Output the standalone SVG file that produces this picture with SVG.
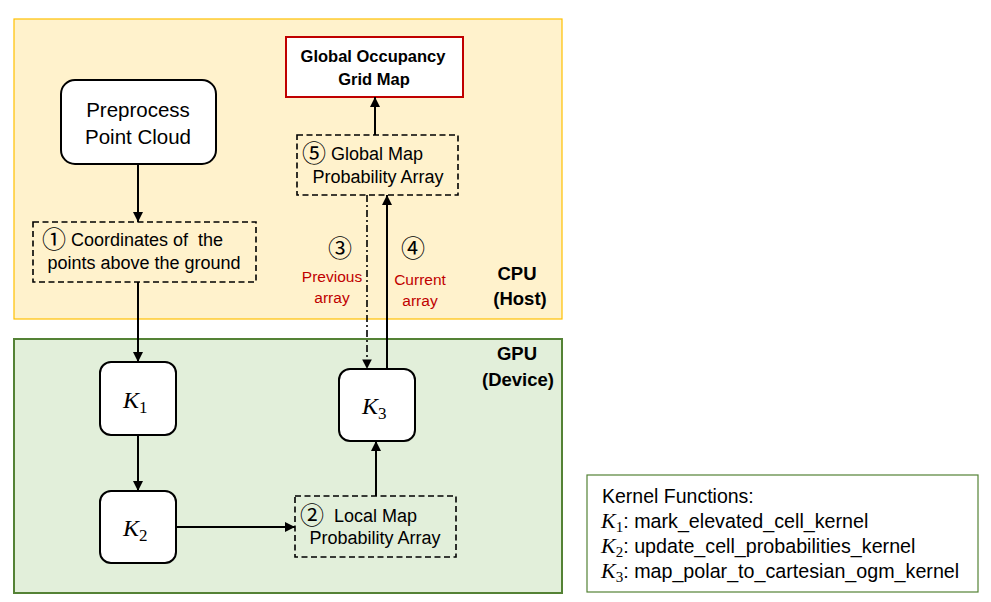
<svg xmlns="http://www.w3.org/2000/svg" width="991" height="602" viewBox="0 0 991 602">
<style>
.t{font-family:"Liberation Sans",Arial,sans-serif;fill:#000}
.b{font-weight:bold}
.red{fill:#C00000}
.c{text-anchor:middle}
.cn{font-family:"Noto Sans CJK JP","DejaVu Sans",sans-serif;font-weight:normal}
.k{font-family:"Liberation Serif","Times New Roman",serif;font-style:italic}
.ks{font-family:"Liberation Serif","Times New Roman",serif}
.node{fill:#fff;stroke:#000;stroke-width:2}
.dash{fill:none;stroke:#000;stroke-width:1.6;stroke-dasharray:6 3.5}
.ln{fill:none;stroke:#000;stroke-width:2}
</style>
<defs>
<marker id="ah" viewBox="0 0 10 10" refX="10" refY="5" markerWidth="5" markerHeight="5" orient="auto" markerUnits="strokeWidth">
<path d="M0,0 L10,5 L0,10 z" fill="#000"/>
</marker>
<marker id="ah2" viewBox="0 0 10 10" refX="10" refY="5" markerWidth="6" markerHeight="6" orient="auto" markerUnits="strokeWidth">
<path d="M0,0 L10,5 L0,10 z" fill="#000"/>
</marker>
</defs>
<rect width="991" height="602" fill="#fff"/>
<g id="cpu">
<rect x="14" y="19" width="548" height="300" fill="#FFF2CC" stroke="#FFC000" stroke-width="1.2"/>
<text class="t b c" x="517" y="280" font-size="18.5">CPU</text>
<text class="t b c" x="520" y="305" font-size="18.5">(Host)</text>
</g>
<g id="gpu">
<rect x="14" y="339" width="548" height="254" fill="#E2EFDA" stroke="#548235" stroke-width="2"/>
<text class="t b c" x="517" y="360" font-size="18.5">GPU</text>
<text class="t b c" x="518" y="386" font-size="18.5">(Device)</text>
</g>
<g id="global-ogm">
<rect x="286" y="37" width="177" height="60" fill="#fff" stroke="#C00000" stroke-width="2"/>
<text class="t b c" x="373" y="62" font-size="16.5">Global Occupancy</text>
<text class="t b c" x="374" y="85" font-size="16.5">Grid Map</text>
</g>
<g id="preprocess">
<rect class="node" x="61" y="80" width="155" height="84" rx="14"/>
<text class="t c" x="138" y="117" font-size="20.5">Preprocess</text>
<text class="t c" x="138" y="144" font-size="20.5">Point Cloud</text>
</g>
<g id="coords">
<rect class="dash" x="33" y="222" width="223" height="60"/>
<text class="t" x="42" y="246" font-size="18" xml:space="preserve"><tspan class="cn" font-size="24" dy="2">①</tspan><tspan dy="-2"> Coordinates of  the</tspan></text>
<text class="t c" x="144" y="269" font-size="18">points above the ground</text>
</g>
<g id="global-array">
<rect class="dash" x="297" y="135" width="161" height="60"/>
<text class="t" x="302" y="160" font-size="18"><tspan class="cn" font-size="24" dy="2">⑤</tspan><tspan dy="-2"> Global Map</tspan></text>
<text class="t c" x="378" y="183" font-size="18">Probability Array</text>
</g>
<g id="k1">
<rect class="node" x="100" y="362" width="76" height="73" rx="11"/>
<text x="123" y="408" font-size="24"><tspan class="k">K</tspan><tspan class="ks" font-size="17" dy="5">1</tspan></text>
</g>
<g id="k2">
<rect class="node" x="100" y="491" width="76" height="72" rx="11"/>
<text x="123" y="536" font-size="24"><tspan class="k">K</tspan><tspan class="ks" font-size="17" dy="5">2</tspan></text>
</g>
<g id="k3">
<rect class="node" x="339" y="369" width="76" height="72" rx="11"/>
<text x="362" y="414" font-size="24"><tspan class="k">K</tspan><tspan class="ks" font-size="17" dy="5">3</tspan></text>
</g>
<g id="local-array">
<rect class="dash" x="295" y="496" width="161" height="61"/>
<text class="t" x="300" y="522" font-size="18" xml:space="preserve"><tspan class="cn" font-size="24" dy="2">②</tspan><tspan dy="-2">  Local Map</tspan></text>
<text class="t c" x="375" y="544" font-size="18">Probability Array</text>
</g>
<g id="labels">
<text class="cn c" x="340" y="257" font-size="24">③</text>
<text class="t red c" x="332" y="282" font-size="15.5">Previous</text>
<text class="t red c" x="332" y="303" font-size="15.5">array</text>
<text class="cn c" x="413" y="257" font-size="24">④</text>
<text class="t red c" x="420" y="285" font-size="15.5">Current</text>
<text class="t red c" x="420" y="306" font-size="15.5">array</text>
</g>
<g id="legend">
<rect x="587" y="475" width="391" height="117" fill="#fff" stroke="#548235" stroke-width="1.2"/>
<text class="t" x="602" y="503" font-size="19.5">Kernel Functions:</text>
<text x="601" y="528" font-size="22"><tspan class="k">K</tspan><tspan class="ks" font-size="15" dy="4">1</tspan><tspan class="t" font-size="19.7" dy="-4">: mark_elevated_cell_kernel</tspan></text>
<text x="601" y="553" font-size="22"><tspan class="k">K</tspan><tspan class="ks" font-size="15" dy="4">2</tspan><tspan class="t" font-size="19.7" dy="-4">: update_cell_probabilities_kernel</tspan></text>
<text x="601" y="578" font-size="22"><tspan class="k">K</tspan><tspan class="ks" font-size="15" dy="4">3</tspan><tspan class="t" font-size="19.7" dy="-4">: map_polar_to_cartesian_ogm_kernel</tspan></text>
</g>
<g id="connectors">
<line class="ln" x1="138" y1="164" x2="138" y2="222" marker-end="url(#ah)"/>
<line class="ln" x1="138" y1="282" x2="138" y2="362" marker-end="url(#ah)"/>
<line class="ln" x1="138" y1="435" x2="138" y2="491" marker-end="url(#ah)"/>
<line class="ln" x1="176" y1="527" x2="295" y2="527" marker-end="url(#ah)"/>
<line class="ln" x1="376" y1="496" x2="376" y2="441" marker-end="url(#ah)"/>
<line class="ln" x1="387" y1="369" x2="387" y2="195" marker-end="url(#ah)"/>
<line class="ln" x1="375" y1="135" x2="375" y2="97" marker-end="url(#ah)"/>
<line x1="367" y1="195" x2="367" y2="369" stroke="#000" stroke-width="1.6" stroke-dasharray="7 3 2 3" marker-end="url(#ah2)"/>
</g>
</svg>
